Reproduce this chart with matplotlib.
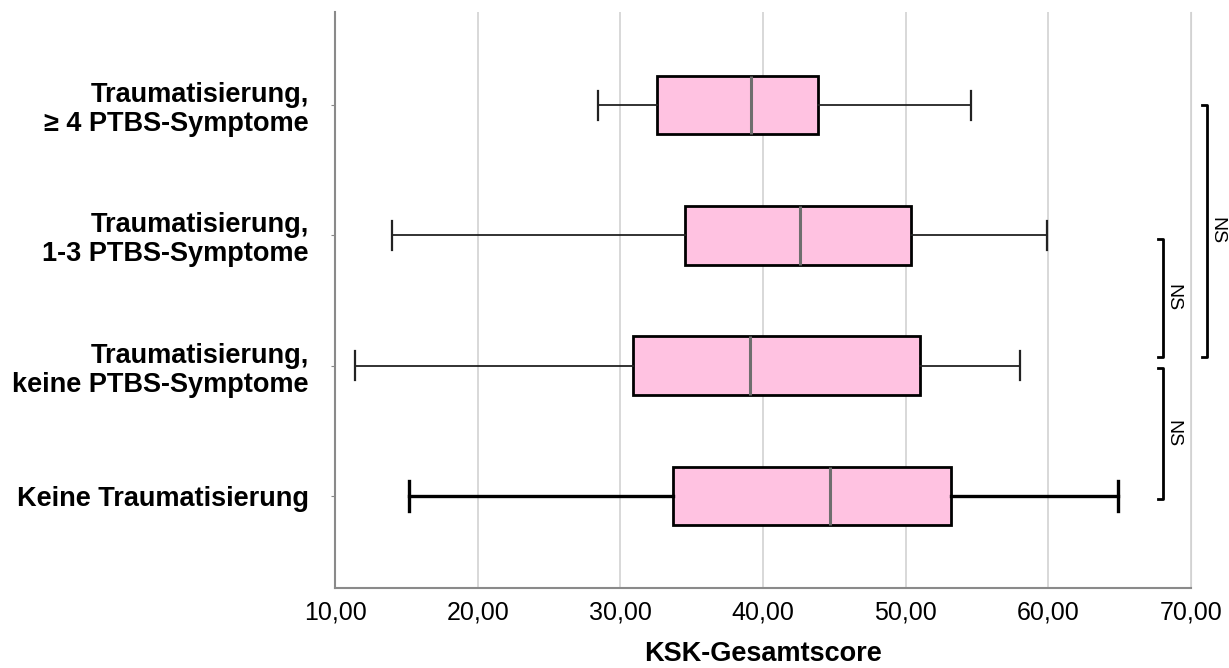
import matplotlib.pyplot as plt

plt.rcParams['font.family'] = ['Liberation Sans', 'DejaVu Sans']

# groups from bottom to top
groups = ["Keine Traumatisierung",
          "Traumatisierung,\nkeine PTBS-Symptome",
          "Traumatisierung,\n1-3 PTBS-Symptome",
          "Traumatisierung,\n\u2265 4 PTBS-Symptome"]
whislo = [15.2, 11.4, 14.0, 28.4]
q1 = [33.7, 30.85, 34.55, 32.6]
med = [44.7, 39.1, 42.6, 39.15]
q3 = [53.15, 51.0, 50.4, 43.85]
whishi = [64.9, 58.0, 59.9, 54.55]

# significance brackets: (y_low, y_high, x of bracket, label)
brackets = [(-0.02, 0.98, 68.0, "NS"),
            (1.07, 1.97, 68.0, "NS"),
            (1.07, 3.0, 71.1, "NS")]

stats = []
for i in range(len(groups)):
    stats.append(dict(whislo=whislo[i], q1=q1[i], med=med[i], q3=q3[i],
                      whishi=whishi[i], fliers=[], label=groups[i]))

fig = plt.figure(figsize=(12.29, 6.68), dpi=100)
ax = fig.add_axes([0.2726, 0.1198, 0.6966, 0.862])

pos = list(range(len(groups)))
bp = ax.bxp(stats, positions=pos, vert=False, widths=0.45, patch_artist=True,
            boxprops=dict(facecolor="#FFC2E1", edgecolor="black", linewidth=2),
            medianprops=dict(color="#6e6e6e", linewidth=2.2),
            whiskerprops=dict(color="#222222", linewidth=1.3),
            capprops=dict(color="#222222", linewidth=1.6))

# bottom group is drawn with heavier whiskers in the original
for art in bp["whiskers"][0:2] + bp["caps"][0:2]:
    art.set_linewidth(2.4)
    art.set_color("black")

ax.set_xlim(10, 70)
ax.set_ylim(-0.706, 3.714)
ax.set_xticks([10, 20, 30, 40, 50, 60, 70])
ax.set_xticklabels(["10,00", "20,00", "30,00", "40,00", "50,00", "60,00", "70,00"])
ax.set_yticks(pos)
ax.set_yticklabels(groups, fontweight="bold", fontsize=19.5, linespacing=1.15)
ax.tick_params(axis="x", length=0, pad=9, labelsize=18)
ax.tick_params(axis="y", length=3, color="#888888", pad=16)

ax.grid(axis="x", color="#d2d2d2", linewidth=1.2)
ax.set_axisbelow(True)
ax.spines["top"].set_visible(False)
ax.spines["right"].set_color("#d2d2d2")
ax.spines["left"].set_color("#8a8a8a")
ax.spines["bottom"].set_color("#8a8a8a")
ax.spines["left"].set_linewidth(1.5)
ax.spines["bottom"].set_linewidth(1.5)

ax.set_xlabel("KSK-Gesamtscore", fontsize=19.5, fontweight="bold", labelpad=12)

for ylo, yhi, xb, lab in brackets:
    ax.plot([xb - 0.33, xb, xb, xb - 0.33], [ylo, ylo, yhi, yhi],
            color="black", linewidth=2, clip_on=False)
    ax.text(xb + 0.72, (ylo + yhi) / 2, lab, rotation=270, fontsize=14,
            ha="center", va="center", clip_on=False)

plt.savefig("out.png", dpi=100)
plt.close()
